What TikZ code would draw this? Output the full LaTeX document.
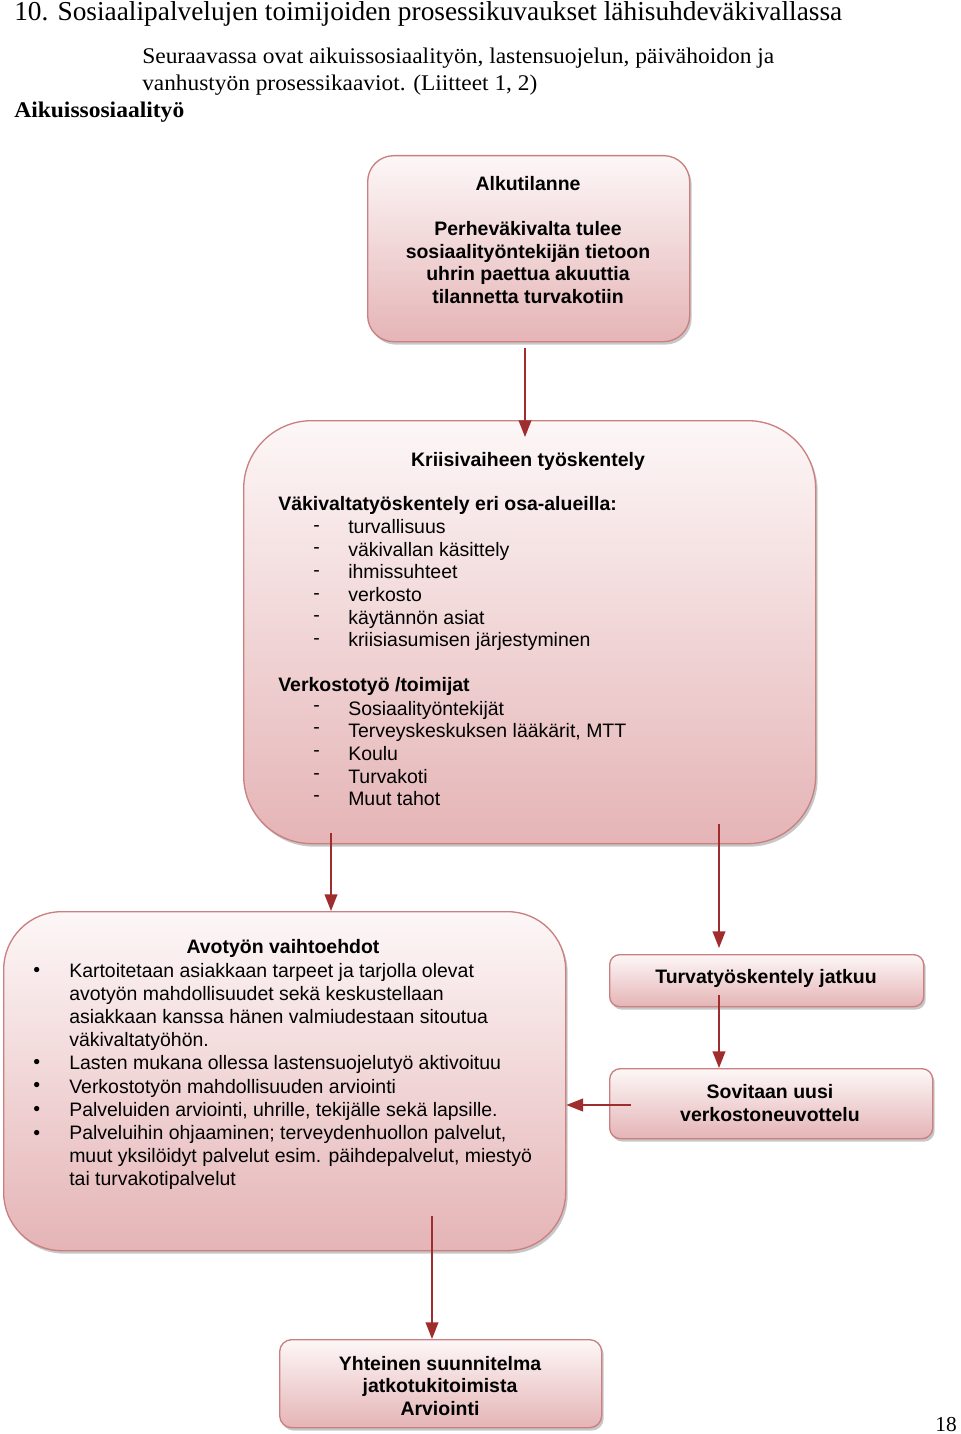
\documentclass[tikz,border=0pt]{standalone}
\usepackage{graphicx}
\usepackage{fontspec}
\setmainfont{Liberation Serif}
\newfontfamily\arial{Liberation Sans}
\usetikzlibrary{arrows.meta,shadows}
\newdimen\px \px=0.75pt
\definecolor{boxline}{RGB}{202,128,128}
\definecolor{boxtop}{RGB}{253,247,247}
\definecolor{boxbot}{RGB}{229,180,182}
\definecolor{arrowred}{RGB}{160,45,45}
\tikzset{
 box/.style={draw=boxline, line width=1pt, top color=boxtop, bottom color=boxbot,
   anchor=north west, inner sep=0pt,
   drop shadow={shadow xshift=1.5pt, shadow yshift=-2.2pt, fill=black, opacity=0.22}},
 arr/.style={draw=arrowred, line width=1.35pt, -{Triangle[length=12.5pt,width=9.5pt]}},
 bt/.style={font=\arial\bfseries\fontsize{14.6}{17}\selectfont, align=center, inner sep=0pt},
 rt/.style={font=\arial\fontsize{14.6}{17}\selectfont, align=left, inner sep=0pt, anchor=west},
 lt/.style={font=\arial\fontsize{14.6}{17.35}\selectfont, align=left, inner sep=0pt, anchor=west},
 serif/.style={inner sep=0pt, anchor=base west},
}
\begin{document}
\begin{tikzpicture}[x=0.75pt,y=-0.75pt]
\useasboundingbox[fill=white] (0,0) rectangle (960,1434);

% header text
\node[serif, font=\fontsize{20.5}{24}\selectfont] (title) at (14,21)
  {\resizebox{828\px}{\height}{10. Sosiaalipalvelujen toimijoiden prosessikuvaukset lähisuhdeväkivallassa}};
\node[serif, font=\fontsize{16.8}{20}\selectfont] (intro1) at (142,64)
  {\resizebox{632\px}{\height}{Seuraavassa ovat aikuissosiaalityön, lastensuojelun, päivähoidon ja}};
\node[serif, font=\fontsize{16.8}{20}\selectfont] (intro2) at (142,91)
  {\resizebox{395\px}{\height}{vanhustyön prosessikaaviot. (Liitteet 1, 2)}};
\node[serif, font=\fontsize{16.8}{20}\selectfont\bfseries] (sect) at (14,118)
  {\resizebox{170\px}{\height}{Aikuissosiaalityö}};
\node[inner sep=0pt, anchor=base east, font=\fontsize{16}{20}\selectfont] (pnum) at (957,1431) {18};

% boxes
\node[box, rounded corners=19.5pt, minimum width=241.5pt, minimum height=139.5pt] (b1) at (367,155) {};
\node[box, rounded corners=51pt, minimum width=429pt, minimum height=317.25pt] (b2) at (243,420) {};
\node[box, rounded corners=43.5pt, minimum width=421.5pt, minimum height=254.25pt] (b3) at (3,911) {};
\node[box, rounded corners=7.5pt, minimum width=235.5pt, minimum height=39pt] (b4) at (609,954) {};
\node[box, rounded corners=8pt, minimum width=242.25pt, minimum height=52.5pt] (b5) at (609,1068) {};
\node[box, rounded corners=9pt, minimum width=241.5pt, minimum height=66pt] (b6) at (279,1339) {};

% box 1 text
\node[bt] (t1) at (528,240) {Alkutilanne\\[17pt]Perheväkivalta tulee\\sosiaalityöntekijän tietoon\\uhrin paettua akuuttia\\tilannetta turvakotiin};

% box 2 text
\node[bt] (t2) at (528,461) {Kriisivaiheen työskentely};
\node[rt, font=\arial\bfseries\fontsize{14.6}{17}\selectfont] (h21) at (278,505) {Väkivaltatyöskentely eri osa-alueilla:};
\node[rt] (d21) at (313,585) {-\\-\\-\\-\\-\\-};
\node[rt] (i21) at (348,585) {turvallisuus\\väkivallan käsittely\\ihmissuhteet\\verkosto\\käytännön asiat\\kriisiasumisen järjestyminen};
\node[rt, font=\arial\bfseries\fontsize{14.6}{17}\selectfont] (h22) at (278,686) {Verkostotyö /toimijat};
\node[rt] (d22) at (313,753.5) {-\\-\\-\\-\\-};
\node[rt] (i22) at (348,753.5) {Sosiaalityöntekijät\\Terveyskeskuksen lääkärit, MTT\\Koulu\\Turvakoti\\Muut tahot};

% box 3 text
\node[bt] (t3) at (283,948) {Avotyön vaihtoehdot};
\node[lt] (l3) at (69,1076.5) {Kartoitetaan asiakkaan tarpeet ja tarjolla olevat\\avotyön mahdollisuudet sekä keskustellaan\\asiakkaan kanssa hänen valmiudestaan sitoutua\\väkivaltatyöhön.\\Lasten mukana ollessa lastensuojelutyö aktivoituu\\Verkostotyön mahdollisuuden arviointi\\Palveluiden arviointi, uhrille, tekijälle sekä lapsille.\\Palveluihin ohjaaminen; terveydenhuollon palvelut,\\muut yksilöidyt palvelut esim. päihdepalvelut, miestyö\\tai turvakotipalvelut};
\node[lt] (p1) at (33,972) {\textbullet};
\node[lt] (p2) at (33,1064) {\textbullet};
\node[lt] (p3) at (33,1087) {\textbullet};
\node[lt] (p4) at (33,1111) {\textbullet};
\node[lt] (p5) at (33,1135) {\textbullet};

% small boxes text
\node[bt] (t4) at (766,978) {Turvatyöskentely jatkuu};
\node[bt] (t5) at (770,1103) {Sovitaan uusi\\verkostoneuvottelu};
\node[bt] (t6) at (440,1386) {Yhteinen suunnitelma\\jatkotukitoimista\\Arviointi};

% connectors
\coordinate (s1) at (525,348);
\draw[arr] (s1) -- ([yshift=-12.75pt] s1 |- b2.north);
\coordinate (s2) at (331,833);
\draw[arr] (s2) -- (s2 |- b3.north);
\coordinate (s3) at (719,824);
\draw[arr] (s3) -- ([yshift=4.5pt] s3 |- b4.north);
\coordinate (s4) at (719,995);
\draw[arr] (s4) -- (s4 |- b5.north);
\coordinate (s5) at (631,1105);
\draw[arr] (s5) -- (s5 -| b3.east);
\coordinate (s6) at (432,1216);
\draw[arr] (s6) -- (s6 |- b6.north);
\end{tikzpicture}
\end{document}
